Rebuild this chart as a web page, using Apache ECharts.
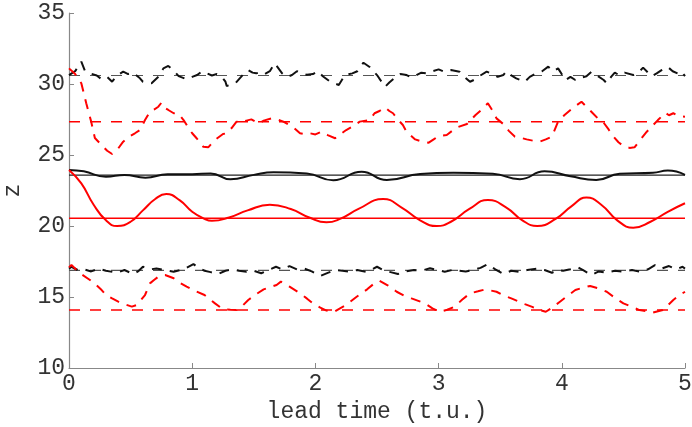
<!DOCTYPE html>
<html><head><meta charset="utf-8">
<script src="https://cdn.jsdelivr.net/npm/echarts@6/dist/echarts.min.js"></script>
<style>html,body{margin:0;padding:0;background:#fff}#c{width:692px;height:427px}</style>
</head><body><div id="c"></div>
<script>
// Reference (mean) levels
const levelUpperBlack = 30.6;
const levelUpperRed = 27.35;
const levelMidBlack = 23.58;
const levelMidRed = 20.55;
const levelLowerBlack = 16.87;
const levelLowerRed = 14.08;

const xTicks = [0, 1, 2, 3, 4, 5];
const yTicks = [10, 15, 20, 25, 30, 35];

// Upper black dashed (noisy)
const upperBlack = [[0,30.63],[0.05,30.9],[0.10,31.57],[0.13,30.9],[0.17,30.75],[0.225,30.6],[0.265,30.33],[0.31,30.5],[0.35,30.16],[0.39,30.6],[0.44,30.87],[0.48,30.7],[0.52,30.8],[0.576,30.4],[0.6,30.16],[0.67,30.05],[0.70,30.3],[0.73,30.55],[0.766,31.1],[0.806,31.27],[0.85,30.95],[0.89,30.55],[0.955,30.33],[1.0,30.5],[1.04,30.63],[1.08,30.9],[1.12,30.75],[1.16,30.6],[1.2,30.7],[1.24,30.5],[1.27,30.16],[1.28,29.86],[1.35,30.05],[1.41,30.63],[1.455,30.98],[1.49,30.8],[1.52,30.75],[1.56,30.85],[1.59,30.7],[1.63,30.9],[1.67,31.46],[1.73,30.75],[1.77,30.5],[1.81,30.63],[1.85,30.9],[1.885,30.75],[1.93,30.65],[1.98,30.7],[2.02,30.9],[2.06,30.55],[2.12,30.16],[2.19,29.93],[2.24,30.63],[2.3,30.75],[2.34,30.9],[2.39,31.5],[2.44,31.2],[2.5,30.63],[2.565,29.8],[2.6,30.1],[2.64,30.4],[2.69,30.7],[2.74,30.63],[2.78,30.45],[2.82,30.63],[2.86,30.8],[2.90,30.75],[2.95,30.9],[3.0,31.03],[3.05,30.85],[3.1,30.98],[3.17,30.87],[3.21,30.5],[3.255,30.16],[3.29,30.3],[3.33,30.55],[3.39,30.87],[3.44,30.7],[3.48,30.5],[3.525,30.63],[3.55,30.9],[3.59,30.6],[3.63,30.4],[3.70,30.16],[3.74,30.5],[3.79,30.75],[3.84,30.9],[3.89,31.22],[3.93,30.9],[3.97,31.1],[4.03,30.28],[4.07,30.5],[4.11,30.28],[4.16,30.45],[4.2,30.55],[4.24,30.85],[4.28,30.63],[4.34,30.28],[4.365,30.05],[4.4,30.5],[4.43,30.8],[4.47,30.6],[4.51,30.8],[4.58,30.63],[4.62,30.8],[4.66,31.15],[4.7,30.8],[4.73,30.55],[4.77,30.75],[4.81,30.98],[4.86,31.2],[4.9,30.9],[4.94,30.75],[4.97,30.9],[5.0,30.55]];

// Upper red dashed
const upperRed = [[0,31.1],[0.05,30.7],[0.10,30.05],[0.14,28.64],[0.18,27.35],[0.21,26.2],[0.265,25.7],[0.31,25.3],[0.35,25.07],[0.39,25.35],[0.44,25.94],[0.49,26.3],[0.535,26.53],[0.576,26.76],[0.617,27.46],[0.657,28.05],[0.69,28.2],[0.725,28.4],[0.75,28.68],[0.78,28.3],[0.806,28.17],[0.85,27.94],[0.89,27.9],[0.93,27.46],[0.97,26.9],[1.0,26.53],[1.036,26.18],[1.09,25.58],[1.13,25.54],[1.185,26.06],[1.25,26.48],[1.28,26.53],[1.32,26.9],[1.36,27.35],[1.40,27.3],[1.44,27.42],[1.48,27.51],[1.54,27.23],[1.58,27.42],[1.645,27.58],[1.69,27.5],[1.74,27.35],[1.79,27.1],[1.83,26.88],[1.875,26.53],[1.92,26.45],[1.956,26.53],[2.0,26.45],[2.05,26.64],[2.1,26.4],[2.16,26.18],[2.2,26.45],[2.25,26.76],[2.3,27.0],[2.36,27.35],[2.44,27.46],[2.48,27.94],[2.52,28.1],[2.565,28.36],[2.6,28.1],[2.63,27.94],[2.67,27.5],[2.71,27.11],[2.74,26.64],[2.81,26.1],[2.86,25.95],[2.92,25.87],[2.96,26.1],[3.0,26.34],[3.066,26.41],[3.11,26.7],[3.15,26.95],[3.23,27.18],[3.30,27.82],[3.35,28.2],[3.40,28.64],[3.44,28.1],[3.47,27.58],[3.525,27.18],[3.57,26.7],[3.62,26.29],[3.67,26.2],[3.715,26.1],[3.77,26.0],[3.82,25.94],[3.87,26.1],[3.92,26.29],[3.97,27.35],[4.02,27.8],[4.07,28.17],[4.12,28.5],[4.16,28.75],[4.2,28.4],[4.24,28.05],[4.29,27.6],[4.34,27.27],[4.38,26.8],[4.42,26.29],[4.46,25.9],[4.50,25.63],[4.55,25.5],[4.59,25.54],[4.64,26.1],[4.69,26.64],[4.73,27.0],[4.78,27.46],[4.84,27.97],[4.87,27.8],[4.905,27.94],[4.95,27.75],[5.0,27.7]];

// Middle black solid (smooth)
const midBlack = [[0,23.95],[0.12,23.85],[0.3,23.47],[0.45,23.6],[0.62,23.4],[0.8,23.65],[1.0,23.65],[1.15,23.7],[1.31,23.29],[1.5,23.6],[1.66,23.78],[1.93,23.7],[2.145,23.22],[2.375,23.82],[2.58,23.24],[2.85,23.66],[3.12,23.75],[3.44,23.68],[3.66,23.3],[3.86,23.85],[4.07,23.5],[4.28,23.24],[4.47,23.68],[4.74,23.75],[4.86,23.9],[5.0,23.6]];

// Middle red solid (smooth)
const midRed = [[0,23.95],[0.1,23.0],[0.2,21.5],[0.3,20.4],[0.39,20.0],[0.5,20.3],[0.6,21.1],[0.7,21.9],[0.79,22.25],[0.9,21.8],[1.0,21.0],[1.1,20.5],[1.16,20.37],[1.3,20.6],[1.45,21.1],[1.63,21.5],[1.8,21.2],[1.95,20.6],[2.09,20.26],[2.2,20.5],[2.35,21.2],[2.55,21.9],[2.7,21.3],[2.85,20.4],[2.985,20.0],[3.1,20.3],[3.25,21.2],[3.4,21.83],[3.55,21.3],[3.68,20.4],[3.8,20.0],[3.95,20.5],[4.08,21.4],[4.2,22.0],[4.32,21.5],[4.45,20.4],[4.58,19.88],[4.72,20.3],[4.86,21.0],[5.0,21.6]];

// Lower black dashed (noisy)
const lowerBlack = [[0,17.0],[0.02,17.13],[0.07,16.9],[0.12,16.95],[0.18,16.8],[0.24,17.0],[0.3,16.85],[0.39,16.71],[0.45,16.9],[0.52,16.62],[0.56,16.8],[0.60,17.13],[0.66,16.95],[0.71,17.0],[0.78,16.9],[0.85,16.78],[0.93,16.95],[1.01,17.32],[1.05,17.05],[1.1,16.85],[1.15,16.75],[1.21,16.62],[1.27,16.85],[1.33,16.95],[1.38,16.85],[1.44,16.78],[1.5,16.85],[1.56,16.67],[1.62,16.9],[1.68,17.13],[1.73,16.95],[1.79,17.18],[1.85,16.95],[1.91,17.0],[1.97,16.8],[2.04,16.48],[2.1,16.7],[2.16,16.9],[2.22,16.85],[2.28,16.78],[2.34,16.9],[2.41,16.78],[2.46,16.95],[2.5,17.13],[2.56,16.85],[2.61,16.75],[2.67,16.62],[2.73,16.8],[2.8,16.9],[2.86,16.85],[2.93,17.02],[2.99,16.9],[3.05,16.78],[3.11,16.9],[3.17,16.85],[3.22,16.8],[3.28,16.9],[3.34,17.05],[3.40,17.32],[3.46,16.95],[3.525,16.62],[3.59,16.85],[3.65,16.78],[3.72,16.9],[3.80,17.0],[3.86,16.9],[3.92,16.71],[3.97,16.9],[4.01,16.85],[4.07,16.95],[4.13,17.09],[4.18,16.85],[4.24,16.55],[4.3,16.8],[4.36,16.71],[4.43,16.85],[4.50,16.78],[4.57,16.9],[4.64,16.78],[4.7,16.95],[4.756,17.25],[4.81,17.0],[4.87,17.18],[4.93,16.95],[4.98,17.13],[5.0,17.0]];

// Lower red dashed
const lowerRed = [[0,17.1],[0.02,17.25],[0.09,16.67],[0.17,16.2],[0.22,15.85],[0.265,15.49],[0.30,15.14],[0.35,14.9],[0.40,14.67],[0.45,14.5],[0.51,14.32],[0.55,14.44],[0.585,14.8],[0.617,15.14],[0.657,15.96],[0.69,16.2],[0.725,16.43],[0.78,16.55],[0.85,16.32],[0.9,16.0],[0.955,15.73],[1.03,15.4],[1.10,15.14],[1.185,14.55],[1.25,14.13],[1.31,14.1],[1.36,14.08],[1.41,14.4],[1.455,14.79],[1.52,15.2],[1.58,15.54],[1.635,15.7],[1.685,15.85],[1.72,16.08],[1.79,15.73],[1.875,15.26],[1.93,14.9],[1.98,14.55],[2.04,14.25],[2.09,14.04],[2.15,13.95],[2.2,14.2],[2.25,14.44],[2.335,15.02],[2.42,15.54],[2.47,15.9],[2.52,16.15],[2.59,15.8],[2.66,15.37],[2.72,15.1],[2.78,14.9],[2.89,14.55],[2.95,14.2],[3.01,13.96],[3.07,14.1],[3.13,14.32],[3.19,14.8],[3.255,15.26],[3.32,15.4],[3.38,15.54],[3.47,15.37],[3.53,15.1],[3.59,14.9],[3.70,14.5],[3.76,14.3],[3.82,14.08],[3.87,13.96],[3.93,14.3],[3.985,14.67],[4.05,15.1],[4.11,15.49],[4.17,15.65],[4.23,15.78],[4.3,15.6],[4.365,15.37],[4.43,14.95],[4.50,14.55],[4.57,14.3],[4.63,14.08],[4.69,14.0],[4.74,13.9],[4.82,14.08],[4.86,14.4],[4.905,14.79],[4.95,15.1],[5.0,15.37]];

const RED = '#ff0000';
const FONT = 'Liberation Mono';
const TXT = '#333';
const FS = 23;
const dashCurve = [10, 8];
const dashRef = [11, 10];

function level(v) { return [[0, v], [5, v]]; }

function line(data, color, width, type, smooth, z) {
  return {
    type: 'line', data: data, showSymbol: false, symbol: 'none',
    smooth: smooth || false, z: z || 2, animation: false, silent: true,
    lineStyle: { color: color, width: width, type: type }
  };
}

const chart = echarts.init(document.getElementById('c'), null, { renderer: 'canvas' });
chart.setOption({
  animation: false,
  backgroundColor: '#ffffff',
  grid: { left: 69, right: 7, top: 13, bottom: 59, containLabel: false, outerBoundsMode: 'none' },
  xAxis: {
    type: 'value', min: xTicks[0], max: xTicks[xTicks.length - 1], interval: 1,
    name: 'lead time (t.u.)', nameLocation: 'middle', nameGap: 32,
    nameTextStyle: { fontFamily: FONT, fontSize: FS, color: TXT },
    axisLine: { show: true, lineStyle: { color: '#888', width: 1.2 } },
    axisTick: { show: true, inside: true, length: 5, lineStyle: { color: '#888' } },
    axisLabel: { fontFamily: FONT, fontSize: FS, color: TXT, margin: 4 },
    splitLine: { show: false }
  },
  yAxis: {
    type: 'value', min: yTicks[0], max: yTicks[yTicks.length - 1], interval: 5,
    name: 'z', nameLocation: 'middle', nameGap: 45, nameRotate: 90,
    nameTextStyle: { fontFamily: FONT, fontSize: FS, color: TXT },
    axisLine: { show: true, lineStyle: { color: '#888', width: 1.2 } },
    axisTick: { show: true, inside: true, length: 5, lineStyle: { color: '#888' } },
    axisLabel: { fontFamily: FONT, fontSize: FS, color: TXT, margin: 4 },
    splitLine: { show: false }
  },
  series: [
    line(level(levelUpperBlack), '#555', 1.2, dashRef, false, 1),
    line(level(levelUpperRed), RED, 1.5, dashRef, false, 1),
    line(level(levelMidBlack), '#222', 1.2, 'solid', false, 1),
    line(level(levelMidRed), RED, 1.5, 'solid', false, 1),
    line(level(levelLowerBlack), '#555', 1.2, dashRef, false, 1),
    line(level(levelLowerRed), RED, 1.5, dashRef, false, 1),
    line(upperBlack, '#111', 2, dashCurve, false, 3),
    line(upperRed, RED, 2, dashCurve, false, 3),
    line(midBlack, '#111', 2, 'solid', 0.5, 3),
    line(midRed, RED, 2, 'solid', 0.5, 3),
    line(lowerBlack, '#111', 2, dashCurve, false, 3),
    line(lowerRed, RED, 2, dashCurve, false, 3)
  ]
});
</script>
</body></html>
